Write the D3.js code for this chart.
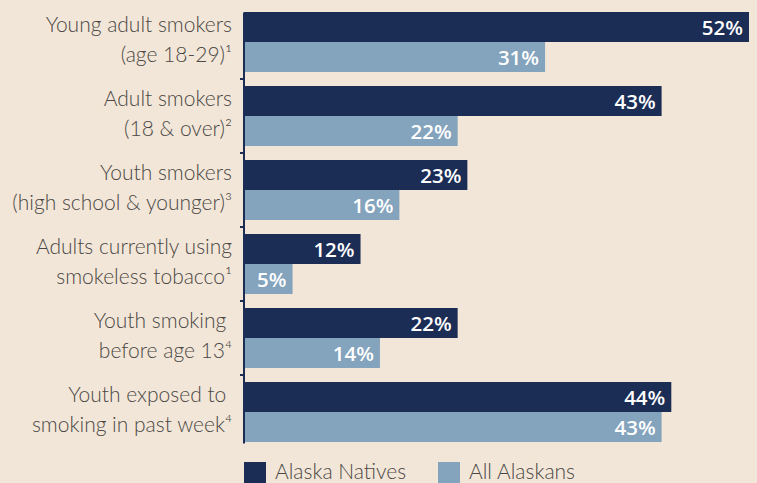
<!DOCTYPE html>
<html><head><meta charset="utf-8">
<script src="https://cdn.jsdelivr.net/npm/d3@7"></script>
<style>
html,body{margin:0;padding:0;background:#f2e6d8;}
svg{display:block;}
</style></head>
<body>
<svg id="chart" width="757" height="483"></svg>
<script>
const categories = [
  ["Young adult smokers", "(age 18-29)\u00B9"],
  ["Adult smokers", "(18 & over)\u00B2"],
  ["Youth smokers", "(high school & younger)\u00B3"],
  ["Adults currently using", "smokeless tobacco\u00B9"],
  ["Youth smoking\u00A0", "before age 13\u2074"],
  ["Youth exposed to\u00A0", "smoking in past week\u2074"]
];
const seriesNames = ["Alaska Natives", "All Alaskans"];
const alaskaNatives = [52, 43, 23, 12, 22, 44];
const allAlaskans = [31, 22, 16, 5, 14, 43];
const colors = ["#1b2c55", "#84a3bd"];

const svg = d3.select("#chart");
const W = 757, H = 483;
svg.append("rect").attr("width", W).attr("height", H).attr("fill", "#f2e6d8");

const keys = categories.map((c, i) => i);
const x = d3.scaleLinear().domain([0, 52]).range([244, 749]);
const y = d3.scaleBand().domain(keys).range([5, 449]).paddingInner(14/74).paddingOuter(7/74);
const ySub = d3.scaleBand().domain([0, 1]).range([0, y.bandwidth()]);

const rows = keys.map(i => ({i, vals: [alaskaNatives[i], allAlaskans[i]]}));

const g = svg.append("g");
const grp = g.selectAll("g.grp").data(rows).join("g").attr("class", "grp")
  .attr("transform", d => `translate(0,${y(d.i)})`);

grp.selectAll("rect").data(d => d.vals.map((v, s) => ({v, s}))).join("rect")
  .attr("x", x(0))
  .attr("y", d => ySub(d.s))
  .attr("width", d => x(d.v) - x(0))
  .attr("height", ySub.bandwidth())
  .attr("fill", d => colors[d.s]);

grp.selectAll("text.val").data(d => d.vals.map((v, s) => ({v, s}))).join("text")
  .attr("class", "val")
  .attr("x", d => x(d.v) - 6)
  .attr("y", d => ySub(d.s) + ySub.bandwidth() / 2 + 7.5)
  .attr("text-anchor", "end")
  .attr("fill", "#ffffff")
  .style("font-family", "'Open Sans', sans-serif")
  .style("font-weight", 600)
  .style("font-size", "20.5px")
  .text(d => d.v + "%");

// category labels
grp.selectAll("text.cat").data(d => categories[d.i].map((t, l) => ({t, l}))).join("text")
  .attr("class", "cat")
  .attr("x", 232)
  .attr("y", d => ySub(d.l) + ySub.bandwidth() / 2 + 5)
  .attr("text-anchor", "end")
  .attr("fill", "#4b4845")
  .style("font-family", "Lato, sans-serif")
  .style("font-weight", 300)
  .style("font-size", "21px")
  .style("white-space", "pre")
  .text(d => d.t);

// axis line
const axis = d3.axisLeft(d3.scaleLinear().domain([0, 1]).range([y(0), y(5) + y.bandwidth() + 1]))
  .tickValues([]).tickSizeOuter(0);
const ax = svg.append("g").attr("transform", `translate(243.5,0)`).call(axis);
ax.select(".domain").attr("stroke", "#1b2c55").attr("stroke-width", 2);
// ticks at group boundaries
svg.append("g").selectAll("line").data(keys.slice(1)).join("line")
  .attr("x1", 240).attr("x2", 244)
  .attr("y1", d => y(d) - 7).attr("y2", d => y(d) - 7)
  .attr("stroke", "#1b2c55").attr("stroke-width", 2);

// legend
const leg = svg.append("g");
const legX = [244, 438];
seriesNames.forEach((n, s) => {
  leg.append("rect").attr("x", legX[s]).attr("y", 462).attr("width", 22).attr("height", 22).attr("fill", colors[s]);
  leg.append("text").attr("x", legX[s] + 31).attr("y", 479)
    .attr("fill", "#4b4845")
    .style("font-family", "Lato, sans-serif")
    .style("font-weight", 300)
    .style("font-size", "21px")
    .text(n);
});
</script>
</body></html>
